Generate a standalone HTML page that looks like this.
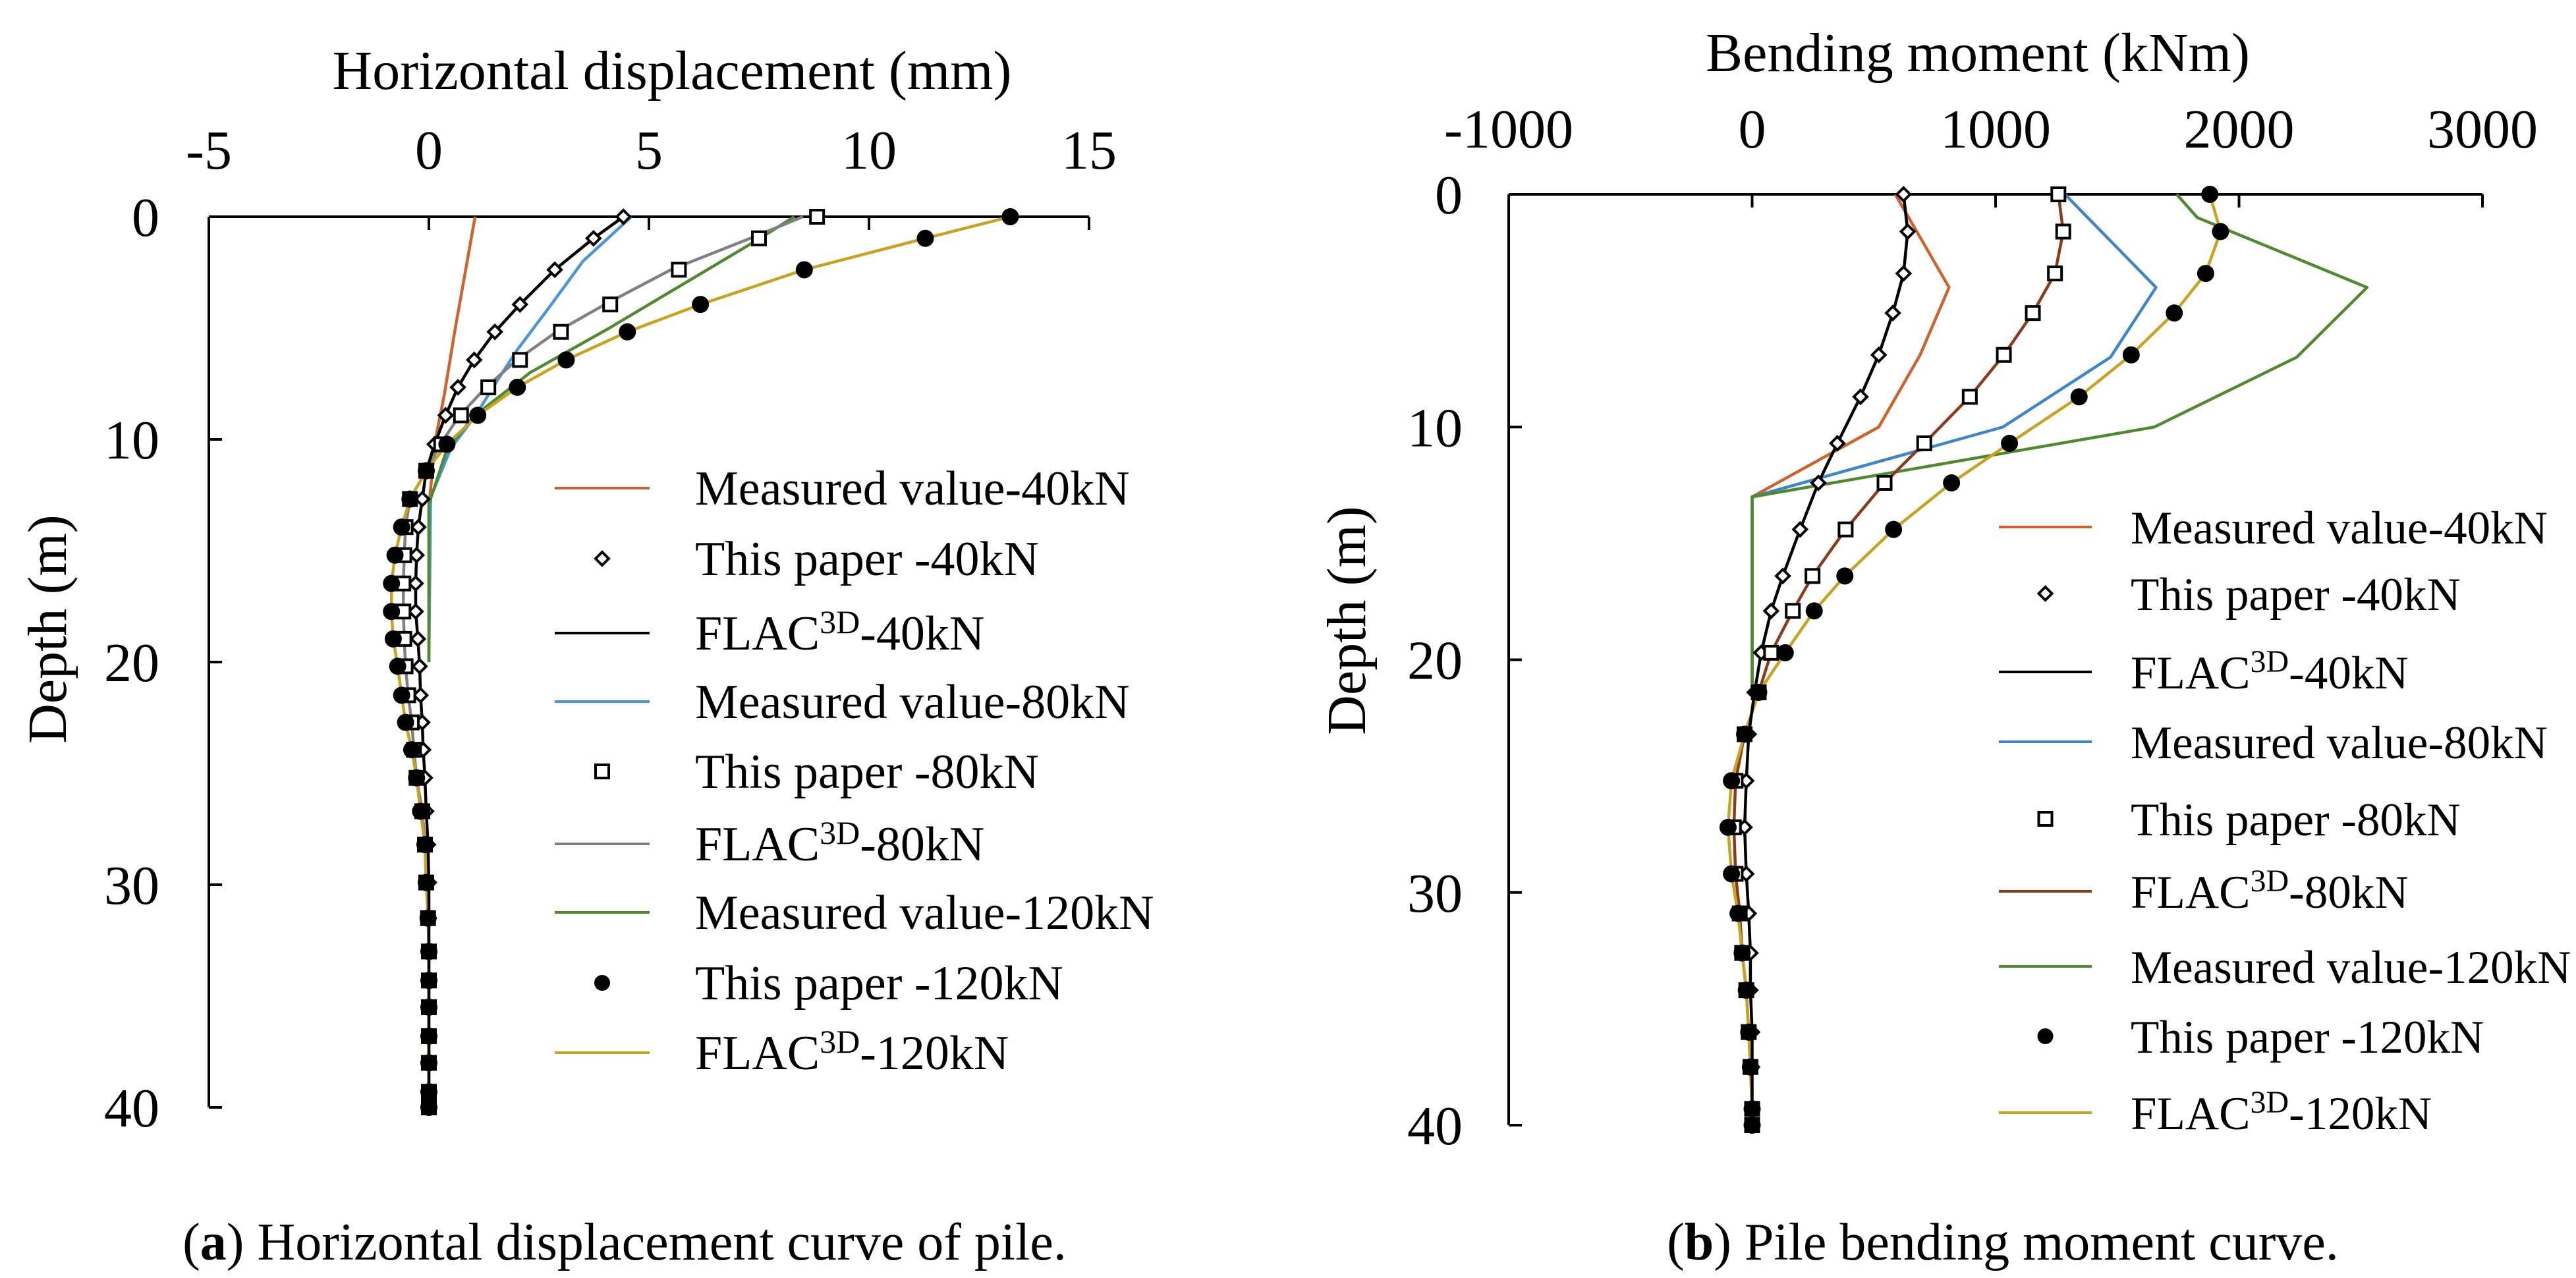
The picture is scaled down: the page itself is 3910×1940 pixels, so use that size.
<!DOCTYPE html>
<html><head><meta charset="utf-8"><style>
html,body{margin:0;padding:0;background:#fff}
svg text{font-family:"Liberation Serif",serif;fill:#000}
</style></head><body>
<svg id="fig" width="3910" height="1935" viewBox="0 0 3910 1935" xmlns="http://www.w3.org/2000/svg"></svg>
<script>
// ---- Chart A data (horizontal displacement, mm) ----
const depthsA = [0,0.97,2.38,3.94,5.17,6.43,7.66,8.92,10.22,11.41,12.68,13.94,15.2,16.47,17.73,18.96,20.19,21.49,22.71,23.94,25.2,26.7,28.2,29.9,31.5,33.0,34.3,35.5,36.8,38.0,39.3,40];
const paperA40 = [4.42,3.74,2.86,2.07,1.5,1.03,0.66,0.38,0.13,-0.06,-0.15,-0.24,-0.28,-0.30,-0.30,-0.25,-0.21,-0.19,-0.15,-0.13,-0.09,-0.06,-0.02,0,0,0,0,0,0,0,0,0];
const paperA80 = [8.82,7.5,5.68,4.12,3.0,2.07,1.35,0.73,0.28,-0.06,-0.43,-0.53,-0.56,-0.58,-0.58,-0.56,-0.53,-0.47,-0.39,-0.34,-0.28,-0.15,-0.09,-0.06,-0.02,0,0,0,0,0,0,0];
const paperA120 = [13.21,11.28,8.53,6.17,4.51,3.12,2.01,1.11,0.41,-0.06,-0.43,-0.62,-0.77,-0.85,-0.85,-0.81,-0.71,-0.62,-0.53,-0.39,-0.28,-0.19,-0.09,-0.06,-0.02,0,0,0,0,0,0,0];
const flacA80 = [8.5,7.3,5.5,4.0,2.9,2.0,1.3,0.7,0.26,-0.06,-0.43,-0.53,-0.56,-0.58,-0.58,-0.56,-0.53,-0.47,-0.39,-0.34,-0.28,-0.15,-0.09,-0.06,-0.02,0,0,0,0,0,0,0];
const measDepthA40 = [0,5,8,10,13,20];
const measA40 = [1.05,0.6,0.35,0.15,0,0];
const measDepthA80 = [0,2,4,6,7.4,8.9,10.4,12.6,20];
const measA80 = [4.6,3.5,2.76,2.0,1.54,1.07,0.5,0.04,0];
const measDepthA120 = [0,1,5,7,9,10.5,12.9,20];
const measA120 = [8.3,7.5,4.1,2.3,1.0,0.4,0,0];
const ticksAx = [-5,0,5,10,15];
const ticksY = [0,10,20,30,40];
// ---- Chart B data (bending moment, kNm) ----
const depthsB = [0,1.6,3.4,5.1,6.9,8.7,10.7,12.4,14.4,16.4,17.9,19.7,21.4,23.2,25.2,27.2,29.2,30.9,32.6,34.2,36.0,37.5,39.3,40];
const paperB40 = [622,639,622,578,520,445,350,272,197,126,78,37,10,-14,-24,-31,-24,-14,-7,-7,0,0,0,0];
const paperB80 = [1258,1278,1244,1153,1034,894,707,544,384,248,167,78,27,-31,-68,-75,-68,-51,-41,-24,-14,-7,0,0];
const paperB120 = [1880,1924,1863,1734,1557,1343,1057,819,581,381,255,136,27,-31,-85,-99,-85,-58,-41,-24,-14,-7,0,0];
const measDepthB40 = [0,4,6.9,10,13,21.5];
const measB40 = [588,809,690,520,0,0];
const measDepthB80 = [0,4,7,10,13,21.5];
const measB80 = [1285,1659,1472,1030,0,0];
const measDepthB120 = [0,1,4,7,10,13,21.5];
const measB120 = [1744,1829,2526,2237,1652,0,0];
const ticksBx = [-1000,0,1000,2000,3000];

const NS = "http://www.w3.org/2000/svg";
const svg = document.getElementById('fig');
function mk(tag, attrs, parent){const e=document.createElementNS(NS,tag);for(const k in attrs)e.setAttribute(k,attrs[k]);(parent||svg).appendChild(e);return e;}

function chart(cfg){
  const g = mk('g',{});
  
  
  const X = v => cfg.x0 + (v - cfg.xmin) / (cfg.xmax - cfg.xmin) * (cfg.x1 - cfg.x0);
  const Y = d => cfg.y0 + d / 40 * (cfg.y1 - cfg.y0);
  const ax = mk('path',{d:`M${cfg.x0},${cfg.y0}H${cfg.x1}M${cfg.x0},${cfg.y0}V${cfg.y1}`,stroke:'#000','stroke-width':4,fill:'none'},g);
  
  
  cfg.xticks.forEach(t=>{
    mk('line',{x1:X(t),x2:X(t),y1:cfg.y0,y2:cfg.y0+20,stroke:'#000','stroke-width':4},g);
    const tx = mk('text',{x:X(t),y:cfg.xly,'font-size':84,'text-anchor':'middle'},g);
    tx.textContent = t;
    
    
  });
  ticksY.forEach(t=>{
    mk('line',{x1:cfg.x0,x2:cfg.x0+20,y1:Y(t),y2:Y(t),stroke:'#000','stroke-width':4},g);
    const tx = mk('text',{x:cfg.ylx,y:Y(t)+29,'font-size':84,'text-anchor':'end'},g);
    tx.textContent = t;
    
    
  });
  const xt = mk('text',{x:cfg.titleX,y:cfg.titleY,'font-size':84,'text-anchor':'middle'},g);
  xt.textContent = cfg.title;
  
  
  const yt = mk('text',{x:0,y:0,'font-size':84,'text-anchor':'middle',transform:`translate(${cfg.ytX},${cfg.ytY}) rotate(-90)`},g);
  yt.textContent = 'Depth (m)';
  
  
  function line(vals, depths, color, name){
    const p = mk('polyline',{points:vals.map((v,i)=>X(v)+','+Y(depths[i])).join(' '),fill:'none',stroke:color,'stroke-width':4.5,'stroke-linejoin':'round'},g);
    
    
  }
  function markers(vals, depths, type, name){
    const mg = mk('g',{},g);
    
    
    vals.forEach((v,i)=>{
      const cx=X(v), cy=Y(depths[i]);
      if(type==='d') mk('path',{d:`M${cx},${cy-10}L${cx+10},${cy}L${cx},${cy+10}L${cx-10},${cy}Z`,fill:'#fff',stroke:'#000','stroke-width':4},mg);
      else if(type==='s') mk('rect',{x:cx-10,y:cy-10,width:20,height:20,fill:'#fff',stroke:'#000','stroke-width':4},mg);
      else mk('circle',{cx:cx,cy:cy,r:13,fill:'#000'},mg);
    });
  }
  cfg.series.forEach(s=>{ if(s.t==='l') line(s.v,s.d,s.c,s.n); });
  cfg.series.forEach(s=>{ if(s.t!=='l') markers(s.v,s.d,s.t,s.n); });
  const lg = mk('g',{},g);
  
  
  const fs = cfg.legFs;
  cfg.legend.forEach((L,i)=>{
    const y = cfg.legY[i];
    const eg = mk('g',{},lg);
    
    
    const mx = (cfg.legL0+cfg.legL1)/2;
    if(L.t==='l') mk('line',{x1:cfg.legL0,x2:cfg.legL1,y1:y,y2:y,stroke:L.c,'stroke-width':4},eg);
    else if(L.t==='d') mk('path',{d:`M${mx},${y-10}L${mx+10},${y}L${mx},${y+10}L${mx-10},${y}Z`,fill:'#fff',stroke:'#000','stroke-width':4},eg);
    else if(L.t==='s') mk('rect',{x:mx-10,y:y-10,width:20,height:20,fill:'#fff',stroke:'#000','stroke-width':4},eg);
    else mk('circle',{cx:mx,cy:y,r:12,fill:'#000'},eg);
    const tx = mk('text',{x:cfg.legTx,y:y+25,'font-size':fs},eg);
    if(L.flac){
      tx.appendChild(document.createTextNode('FLAC'));
      const sp = mk('tspan',{'font-size':Math.round(fs*0.68),dy:-25},tx); sp.textContent='3D';
      const r = mk('tspan',{dy:25},tx); r.textContent=L.txt;
    } else tx.textContent = L.txt;
  });
  const cap = mk('text',{x:cfg.capX,y:cfg.capY,'font-size':80,'text-anchor':'middle'},g);
  
  
  cap.appendChild(document.createTextNode('('));
  const bb = mk('tspan',{'font-weight':'bold'},cap); bb.textContent=cfg.capL;
  cap.appendChild(document.createTextNode(') '+cfg.cap));
}

const legA = [
 {t:'l',c:'#d0622a',txt:'Measured value-40kN'},{t:'d',txt:'This paper -40kN'},{t:'l',c:'#000',flac:1,txt:'-40kN'},
 {t:'l',c:'#4a96dc',txt:'Measured value-80kN'},{t:'s',txt:'This paper -80kN'},{t:'l',c:'#808080',flac:1,txt:'-80kN'},
 {t:'l',c:'#4f8a2e',txt:'Measured value-120kN'},{t:'c',txt:'This paper -120kN'},{t:'l',c:'#c9a21e',flac:1,txt:'-120kN'}];
chart({name:'displacement-chart',x0:317,x1:1653,xmin:-5,xmax:15,y0:329,y1:1681,xticks:ticksAx,xly:256,ylx:242,
 title:'Horizontal displacement (mm)',titleX:1020,titleY:135,ytX:100,ytY:955,
 series:[
  {t:'l',v:measA40,d:measDepthA40,c:'#d0622a',n:'measured-40kn-line'},
  {t:'l',v:measA80,d:measDepthA80,c:'#4a96dc',n:'measured-80kn-line'},
  {t:'l',v:measA120,d:measDepthA120,c:'#4f8a2e',n:'measured-120kn-line'},
  {t:'l',v:flacA80,d:depthsA,c:'#808080',n:'flac-80kn-line'},
  {t:'l',v:paperA120,d:depthsA,c:'#c9a21e',n:'flac-120kn-line'},
  {t:'l',v:paperA40,d:depthsA,c:'#000',n:'flac-40kn-line'},
  {t:'d',v:paperA40,d:depthsA,n:'paper-40kn-markers'},
  {t:'s',v:paperA80,d:depthsA,n:'paper-80kn-markers'},
  {t:'c',v:paperA120,d:depthsA,n:'paper-120kn-markers'}],
 legend:legA,legY:[741,848,961,1065,1171,1281,1385,1492,1598],legL0:842,legL1:986,legTx:1055,legFs:74,
 capX:948,capY:1912,capL:'a',cap:'Horizontal displacement curve of pile.'});

const legB = [
 {t:'l',c:'#d0622a',txt:'Measured value-40kN'},{t:'d',txt:'This paper -40kN'},{t:'l',c:'#000',flac:1,txt:'-40kN'},
 {t:'l',c:'#3d86cc',txt:'Measured value-80kN'},{t:'s',txt:'This paper -80kN'},{t:'l',c:'#8b3a1a',flac:1,txt:'-80kN'},
 {t:'l',c:'#4f8a2e',txt:'Measured value-120kN'},{t:'c',txt:'This paper -120kN'},{t:'l',c:'#c9a21e',flac:1,txt:'-120kN'}];
chart({name:'bending-moment-chart',x0:2290,x1:3768,xmin:-1000,xmax:3000,y0:295,y1:1708,xticks:ticksBx,xly:224,ylx:2220,
 title:'Bending moment (kNm)',titleX:3002,titleY:108,ytX:2072,ytY:942,
 series:[
  {t:'l',v:measB40,d:measDepthB40,c:'#d0622a',n:'measured-40kn-line'},
  {t:'l',v:measB80,d:measDepthB80,c:'#3d86cc',n:'measured-80kn-line'},
  {t:'l',v:measB120,d:measDepthB120,c:'#4f8a2e',n:'measured-120kn-line'},
  {t:'l',v:paperB80,d:depthsB,c:'#8b3a1a',n:'flac-80kn-line'},
  {t:'l',v:paperB120,d:depthsB,c:'#c9a21e',n:'flac-120kn-line'},
  {t:'l',v:paperB40,d:depthsB,c:'#000',n:'flac-40kn-line'},
  {t:'d',v:paperB40,d:depthsB,n:'paper-40kn-markers'},
  {t:'s',v:paperB80,d:depthsB,n:'paper-80kn-markers'},
  {t:'c',v:paperB120,d:depthsB,n:'paper-120kn-markers'}],
 legend:legB,legY:[800,901,1020,1126,1243,1353,1467,1573,1689],legL0:3034,legL1:3175,legTx:3234,legFs:71,
 capX:3040,capY:1912,capL:'b',cap:'Pile bending moment curve.'});
</script>
</body></html>
